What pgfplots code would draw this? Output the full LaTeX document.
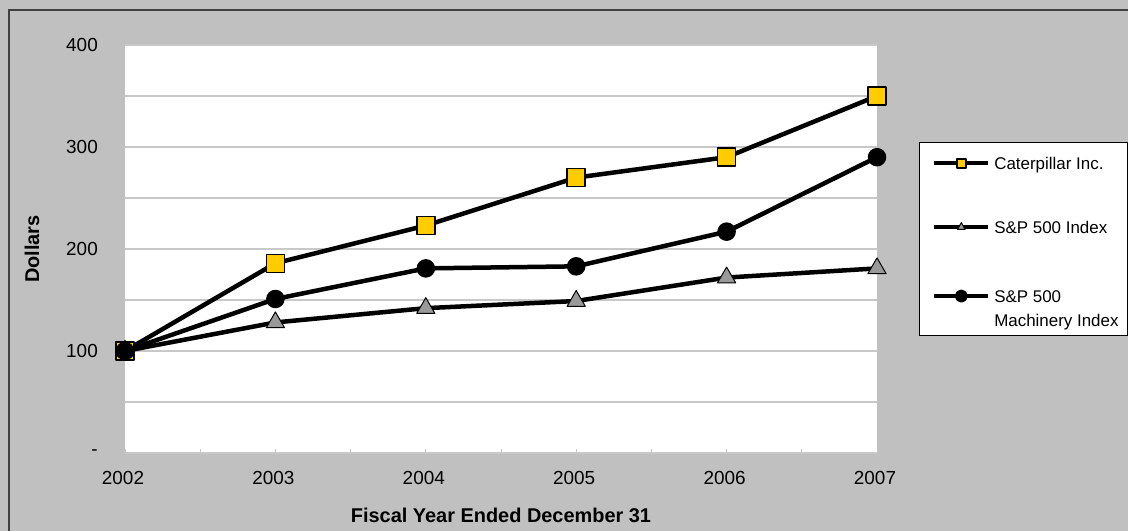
\documentclass[border=0pt]{standalone}
\usepackage{fontspec}
\setmainfont{Liberation Sans}
\usepackage{pgfplots}
\pgfplotsset{compat=1.18}

\definecolor{chartbg}{HTML}{C0C0C0}
\definecolor{gridc}{HTML}{C8C8C8}
\definecolor{catyellow}{HTML}{FFCC00}
\definecolor{spgrey}{HTML}{999999}

\begin{document}
\begin{tikzpicture}
\useasboundingbox (0,0) rectangle (1128bp,531bp);
\fill[chartbg] (0,0) rectangle (1128bp,531bp);
\draw[line width=1.5bp, black!75] (9bp,-20bp) -- (9bp,521bp) -- (1150bp,521bp);
% legend frame
\draw[line width=1bp, fill=white] (919bp,195bp) rectangle (1127bp,388bp);
\begin{axis}[
    at={(125bp,78bp)}, anchor=south west,
    scale only axis,
    width=752bp, height=408bp,
    xmin=2002, xmax=2007,
    ymin=0, ymax=400,
    clip=false,
    axis background/.style={fill=white},
    axis line style={draw=none},
    xtick={2002,2003,2004,2005,2006,2007},
    xticklabels={2002,2003,2004,2005,2006,2007},
    minor x tick num=1,
    xtick pos=bottom,
    tick align=inside,
    major tick length=4bp, minor tick length=4bp,
    xtick style={gridc, line width=1bp},
    ytick={0,50,...,400},
    yticklabels={-,,100,,200,,300,,400},
    ytick style={draw=none},
    ymajorgrids,
    grid style={gridc, line width=1.5bp},
    /pgf/number format/assume math mode=true,
    ticklabel style={font=\fontsize{19}{22}\selectfont},
    xticklabel style={inner sep=0pt, yshift=-18bp, xshift=-2bp},
    yticklabel style={inner sep=0pt, xshift=-27bp},
    xlabel={Fiscal Year Ended December 31},
    ylabel={Dollars},
    every axis x label/.style={at={(rel axis cs:0.5,0)}, yshift=-55bp, anchor=north, inner sep=0pt, font=\fontsize{20}{24}\selectfont\bfseries},
    every axis y label/.style={at={(rel axis cs:0,0.5)}, xshift=-93bp, rotate=90, anchor=center, inner sep=0pt, font=\fontsize{20}{24}\selectfont\bfseries},
    legend style={at={(1.056,0.76)}, anchor=north west, draw=none, fill=none,
        inner xsep=13bp, inner ysep=14bp, row sep=50bp, column sep=0bp,
        font=\fontsize{17}{25}\selectfont,
        cells={anchor=base west},
        nodes={inner xsep=4bp, inner ysep=0pt}},
    legend image code/.code={
        \draw[mark repeat=2, mark phase=2, #1, line width=4bp, mark size=4.5bp]
            plot coordinates {(0bp,6bp) (27bp,6bp) (54bp,6bp)};
    },
    every axis plot/.append style={black, line width=4.5bp, line join=round},
]
\addplot[mark=square*, mark size=9bp, mark options={fill=catyellow, draw=black, line width=1.5bp}]
coordinates {(2002,100) (2003,186) (2004,223) (2005,270) (2006,290) (2007,350)};
\addlegendentry{Caterpillar Inc.}
\addplot[mark=triangle*, mark size=10.5bp, mark options={fill=spgrey, draw=black, line width=1bp}]
coordinates {(2002,100) (2003,128) (2004,142) (2005,149) (2006,172) (2007,181)};
\addlegendentry{S\&P 500 Index}
\addplot[mark=*, mark size=7bp, mark options={fill=black, draw=black}]
coordinates {(2002,100) (2003,151) (2004,181) (2005,183) (2006,217) (2007,290)};
\addlegendentry{\begin{tabular}[t]{@{}l@{}}S\&P 500\\Machinery Index\end{tabular}}
\end{axis}
\end{tikzpicture}
\end{document}
